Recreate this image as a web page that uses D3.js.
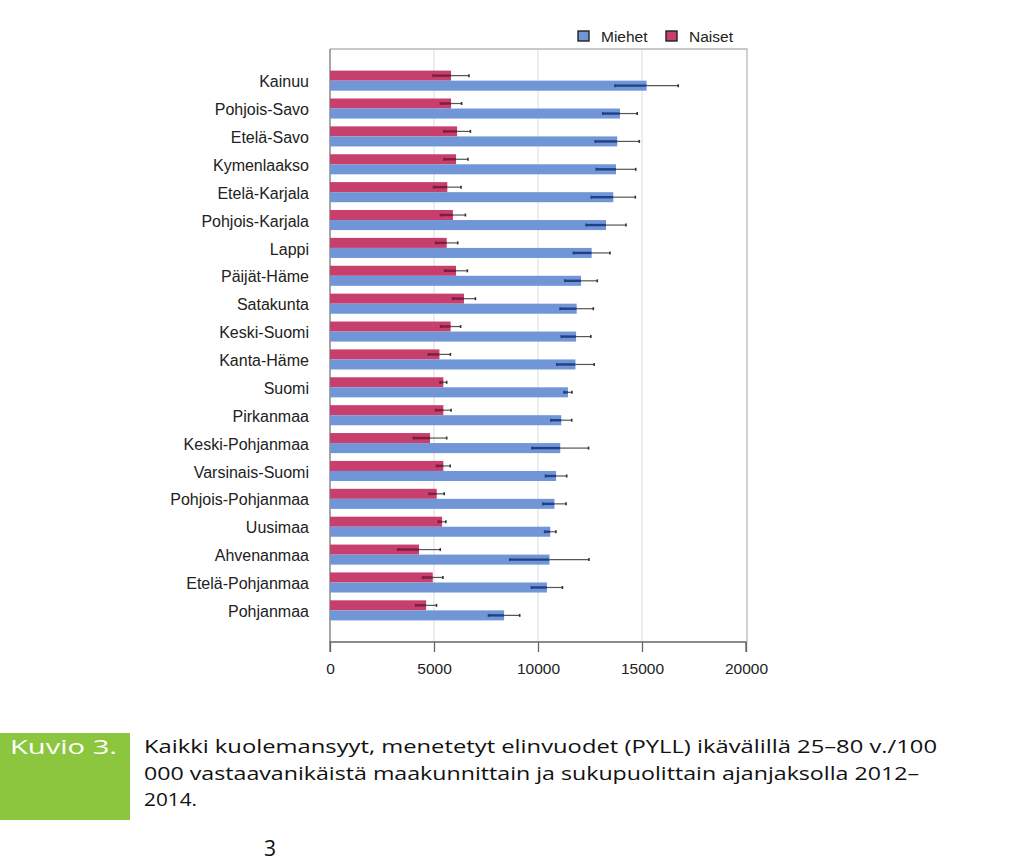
<!DOCTYPE html>
<html><head><meta charset="utf-8">
<script src="https://cdn.jsdelivr.net/npm/d3@7"></script>
<style>body{margin:0;background:#fff}svg{display:block}</style>
</head><body>
<svg id="c" width="1024" height="864"></svg>
<script>
const regions = ["Kainuu","Pohjois-Savo","Etelä-Savo","Kymenlaakso","Etelä-Karjala","Pohjois-Karjala","Lappi","Päijät-Häme","Satakunta","Keski-Suomi","Kanta-Häme","Suomi","Pirkanmaa","Keski-Pohjanmaa","Varsinais-Suomi","Pohjois-Pohjanmaa","Uusimaa","Ahvenanmaa","Etelä-Pohjanmaa","Pohjanmaa"];
const miehet    = [15220,13940,13810,13750,13620,13270,12580,12070,11860,11830,11800,11440,11120,11070,10870,10790,10590,10550,10430,8370];
const miehetErr = [1520,830,1060,950,1060,960,880,780,800,710,900,190,500,1360,510,560,270,1900,745,750];
const naiset    = [5820,5820,6110,6060,5640,5910,5610,6060,6440,5800,5260,5450,5450,4810,5450,5130,5390,4280,4940,4620];
const naisetErr = [860,510,640,570,660,600,530,545,550,480,530,160,370,800,330,360,180,1020,490,500];
const xTicks = [0,5000,10000,15000,20000];
const seriesNames = ["Miehet","Naiset"];
const captionLines = ["Kaikki kuolemansyyt, menetetyt elinvuodet (PYLL) ikävälillä 25–80 v./100",
                      "000 vastaavanikäistä maakunnittain ja sukupuolittain ajanjaksolla 2012–",
                      "2014."];
const figLabel = "Kuvio 3.";
const pageNum = "3";

const svg = d3.select("#c");
const blue = "#7096d8", red = "#c63f6d";
const FONT = "Liberation Sans, Arial, sans-serif";
const L = 330, R = 747, T = 49, B = 642;
const x = d3.scaleLinear().domain([0,20000]).range([L, L + 416]);
const y = d3.scaleBand().domain(regions).range([T, B]).paddingInner(0.28).paddingOuter(0.775);
const half = y.bandwidth()/2;

// grid
svg.append("g").selectAll("line").data(xTicks.slice(1,4)).join("line")
  .attr("x1", d=>x(d)).attr("x2", d=>x(d)).attr("y1", T).attr("y2", B)
  .attr("stroke", "#dcdcdc").attr("stroke-width", 1);
// box
svg.append("path").attr("d", `M${L},${T}H${R}V${B}`).attr("fill","none").attr("stroke","#b8b8b8").attr("stroke-width",1.3);
svg.append("line").attr("x1",L).attr("x2",L).attr("y1",T).attr("y2",B).attr("stroke","#777").attr("stroke-width",1.3);

const rows = regions.map((r,i)=>({r, m:miehet[i], me:miehetErr[i], n:naiset[i], ne:naisetErr[i]}));
const g = svg.append("g");
g.selectAll("rect.n").data(rows).join("rect").attr("class","n")
  .attr("x", x(0)).attr("y", d=>y(d.r)).attr("width", d=>x(d.n)-x(0)).attr("height", half)
  .attr("fill", red);
g.selectAll("rect.m").data(rows).join("rect").attr("class","m")
  .attr("x", x(0)).attr("y", d=>y(d.r)+half).attr("width", d=>x(d.m)-x(0)).attr("height", half)
  .attr("fill", blue);

function errBars(cls, val, err, off, inner){
  const eg = g.selectAll("g."+cls).data(rows).join("g").attr("class", cls);
  eg.append("line").attr("x1", d=>x(d[val]-d[err])).attr("x2", d=>x(d[val]))
    .attr("y1", d=>y(d.r)+off).attr("y2", d=>y(d.r)+off)
    .attr("stroke", inner).attr("stroke-width", 2.4);
  eg.append("line").attr("x1", d=>x(d[val])).attr("x2", d=>x(d[val]+d[err]))
    .attr("y1", d=>y(d.r)+off).attr("y2", d=>y(d.r)+off)
    .attr("stroke", "#555").attr("stroke-width", 1.2);
  eg.append("line").attr("x1", d=>x(d[val]+d[err])).attr("x2", d=>x(d[val]+d[err]))
    .attr("y1", d=>y(d.r)+off-1.5).attr("y2", d=>y(d.r)+off+1.5)
    .attr("stroke", "#333").attr("stroke-width", 1.6);
  eg.append("line").attr("x1", d=>x(d[val]-d[err])).attr("x2", d=>x(d[val]-d[err]))
    .attr("y1", d=>y(d.r)+off-1.5).attr("y2", d=>y(d.r)+off+1.5)
    .attr("stroke", inner).attr("stroke-width", 1.6);
}
errBars("en","n","ne", half/2, "#7d1d40");
errBars("em","m","me", half*1.5, "#243f85");

// y labels
svg.append("g").selectAll("text").data(regions).join("text")
  .attr("x", 309).attr("y", d=>y(d)+y.bandwidth()/2 + 1).attr("dy","0.35em")
  .attr("text-anchor","end").attr("font-family",FONT)
  .attr("font-size", 16).attr("fill","#222").text(d=>d);

// x axis
const xa = svg.append("g").attr("transform", `translate(0,${B})`)
  .call(d3.axisBottom(x).tickValues(xTicks).tickFormat(d3.format("d")).tickSize(10).tickPadding(11));
xa.select(".domain").attr("stroke","#666").attr("stroke-width",1.3).attr("d", `M${L},10V0H${x(20000)}V10`);
xa.selectAll(".tick line").attr("stroke","#666").attr("stroke-width",1.3);
xa.selectAll("text").attr("font-family",FONT).attr("font-size",15.5).attr("fill","#222");

// legend
const lg = svg.append("g").attr("font-family",FONT).attr("font-size",15.5).attr("fill","#222");
const legX = [578, 666];
seriesNames.forEach((s,i)=>{
  lg.append("rect").attr("x", legX[i]).attr("y", 31).attr("width", 11).attr("height", 10)
    .attr("fill", i===0?blue:red).attr("stroke","#222").attr("stroke-width",1.4);
  lg.append("text").attr("x", legX[i]+23).attr("y", 37).attr("dy","0.35em").text(s);
});

// caption
svg.append("rect").attr("x",0).attr("y",733).attr("width",130).attr("height",87).attr("fill","#8cc63f");
svg.append("text").attr("x",10).attr("y",754).attr("font-family","Open Sans, sans-serif")
  .attr("font-size",20).attr("fill","#fff").attr("textLength",107).attr("lengthAdjust","spacingAndGlyphs").text(figLabel);
const capLens = [793, 775, 53];
captionLines.forEach((t,i)=>{
  svg.append("text").attr("x",144).attr("y",753 + i*26.5)
    .attr("font-family","Open Sans, sans-serif").attr("font-size",19).attr("fill","#111")
    .attr("textLength", capLens[i]).attr("lengthAdjust","spacingAndGlyphs").text(t);
});
svg.append("text").attr("x",264).attr("y",856).attr("font-family","Open Sans, sans-serif")
  .attr("font-size",21).attr("fill","#111").text(pageNum);
</script>
</body></html>
